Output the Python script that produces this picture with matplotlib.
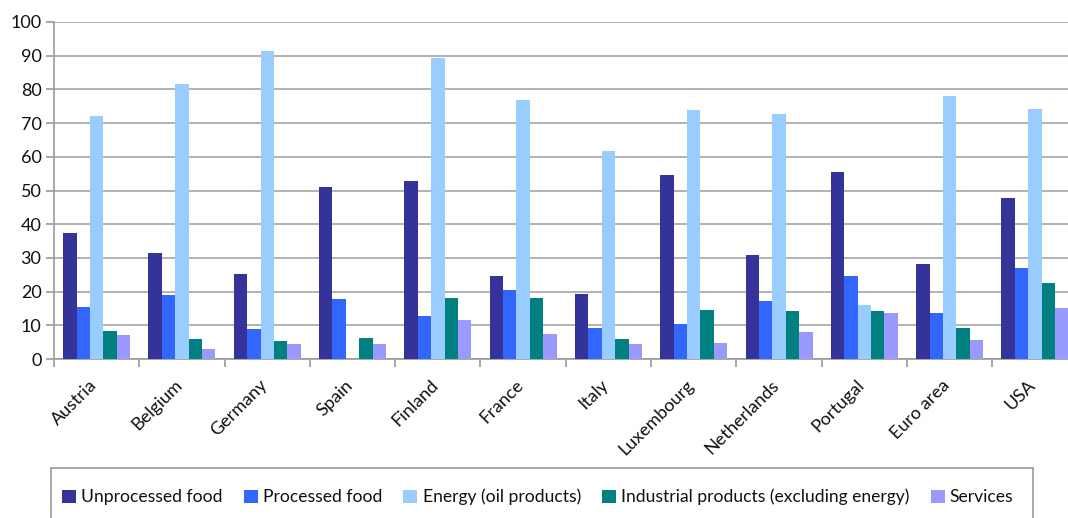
import numpy as np
import matplotlib
matplotlib.use("Agg")
import matplotlib.pyplot as plt
from matplotlib.patches import Rectangle
from matplotlib.transforms import ScaledTranslation

countries = ["Austria", "Belgium", "Germany", "Spain", "Finland", "France", "Italy",
             "Luxembourg", "Netherlands", "Portugal", "Euro area", "USA"]

unprocessed_food = [37.4, 31.5, 25.3, 51.1, 52.9, 24.7, 19.3, 54.6, 30.9, 55.5, 28.2, 47.8]
processed_food = [15.4, 19.0, 8.9, 17.8, 12.8, 20.5, 9.2, 10.4, 17.2, 24.7, 13.7, 27.0]
energy = [72.2, 81.7, 91.5, np.nan, 89.4, 76.9, 61.8, 74.0, 72.8, 16.0, 78.1, 74.2]
industrial = [8.3, 5.9, 5.3, 6.2, 18.1, 18.1, 5.9, 14.6, 14.3, 14.3, 9.2, 22.6]
services = [7.1, 3.0, 4.5, 4.5, 11.6, 7.4, 4.5, 4.8, 8.0, 13.7, 5.6, 15.1]

series_names = ["Unprocessed food", "Processed food", "Energy (oil products)",
                "Industrial products (excluding energy)", "Services"]
series_values = [unprocessed_food, processed_food, energy, industrial, services]
colors = ["#333399", "#3366FF", "#99CCFF", "#008080", "#9999FF"]

plt.rcParams["font.family"] = ["Lato", "DejaVu Sans"]

W, H = 1068, 518
fig = plt.figure(figsize=(W / 100, H / 100), dpi=100)
# plot area in pixel terms; the right edge runs slightly past the figure
left_px, right_px, top_px, bottom_px = 54, 1077.6, 22, 359
ax = fig.add_axes([left_px / W, 1 - bottom_px / H,
                   (right_px - left_px) / W, (bottom_px - top_px) / H])

x = np.arange(len(countries))
w = 0.157
handles = []
for k, (name, vals, c) in enumerate(zip(series_names, series_values, colors)):
    h = ax.bar(x + (k - 2) * w, vals, width=w, color=c, label=name, zorder=3)
    handles.append(h)

ax.set_xlim(-0.5, len(countries) - 0.5)
ax.set_ylim(0, 100)
ax.set_yticks(np.arange(0, 101, 10))
ax.yaxis.grid(True, color="#a6a6a6", linewidth=1.2, zorder=0)
ax.set_axisbelow(True)

for s in ["top", "right"]:
    ax.spines[s].set_visible(False)
for s in ["left", "bottom"]:
    ax.spines[s].set_color("#9a9a9a")
    ax.spines[s].set_linewidth(1.2)

ax.tick_params(axis="y", length=6, width=1.2, color="#9a9a9a", pad=3,
               labelsize=13, labelcolor="#111111")

ax.set_xticks(x)
ax.set_xticklabels(countries, rotation=45, ha="right", va="top",
                   rotation_mode="anchor", fontsize=13, color="#111111")
ax.tick_params(axis="x", which="major", length=0, pad=13)
shift = ScaledTranslation(-8 / 100, 0, fig.dpi_scale_trans)
for lbl in ax.get_xticklabels():
    lbl.set_transform(lbl.get_transform() + shift)
ax.set_xticks(np.arange(-0.5, len(countries), 1.0), minor=True)
ax.tick_params(axis="x", which="minor", length=6, width=1.2, color="#9a9a9a")

leg = fig.legend(handles=handles, loc="center left",
                 bbox_to_anchor=(55 / W, 1 - 497 / H), ncol=5, frameon=False,
                 fontsize=12.6, handlelength=0.8, handleheight=0.8,
                 handletextpad=0.3, columnspacing=1.2, borderaxespad=0)
for t in leg.get_texts():
    t.set_color("#111111")

# legend box, open at the bottom edge of the figure
fig.patches.append(Rectangle((51 / W, -0.05), (1033 - 51) / W, 0.05 + (518 - 468) / H,
                             transform=fig.transFigure, fill=False,
                             edgecolor="#9a9a9a", linewidth=1.2))

fig.savefig("out.png", dpi=100)
